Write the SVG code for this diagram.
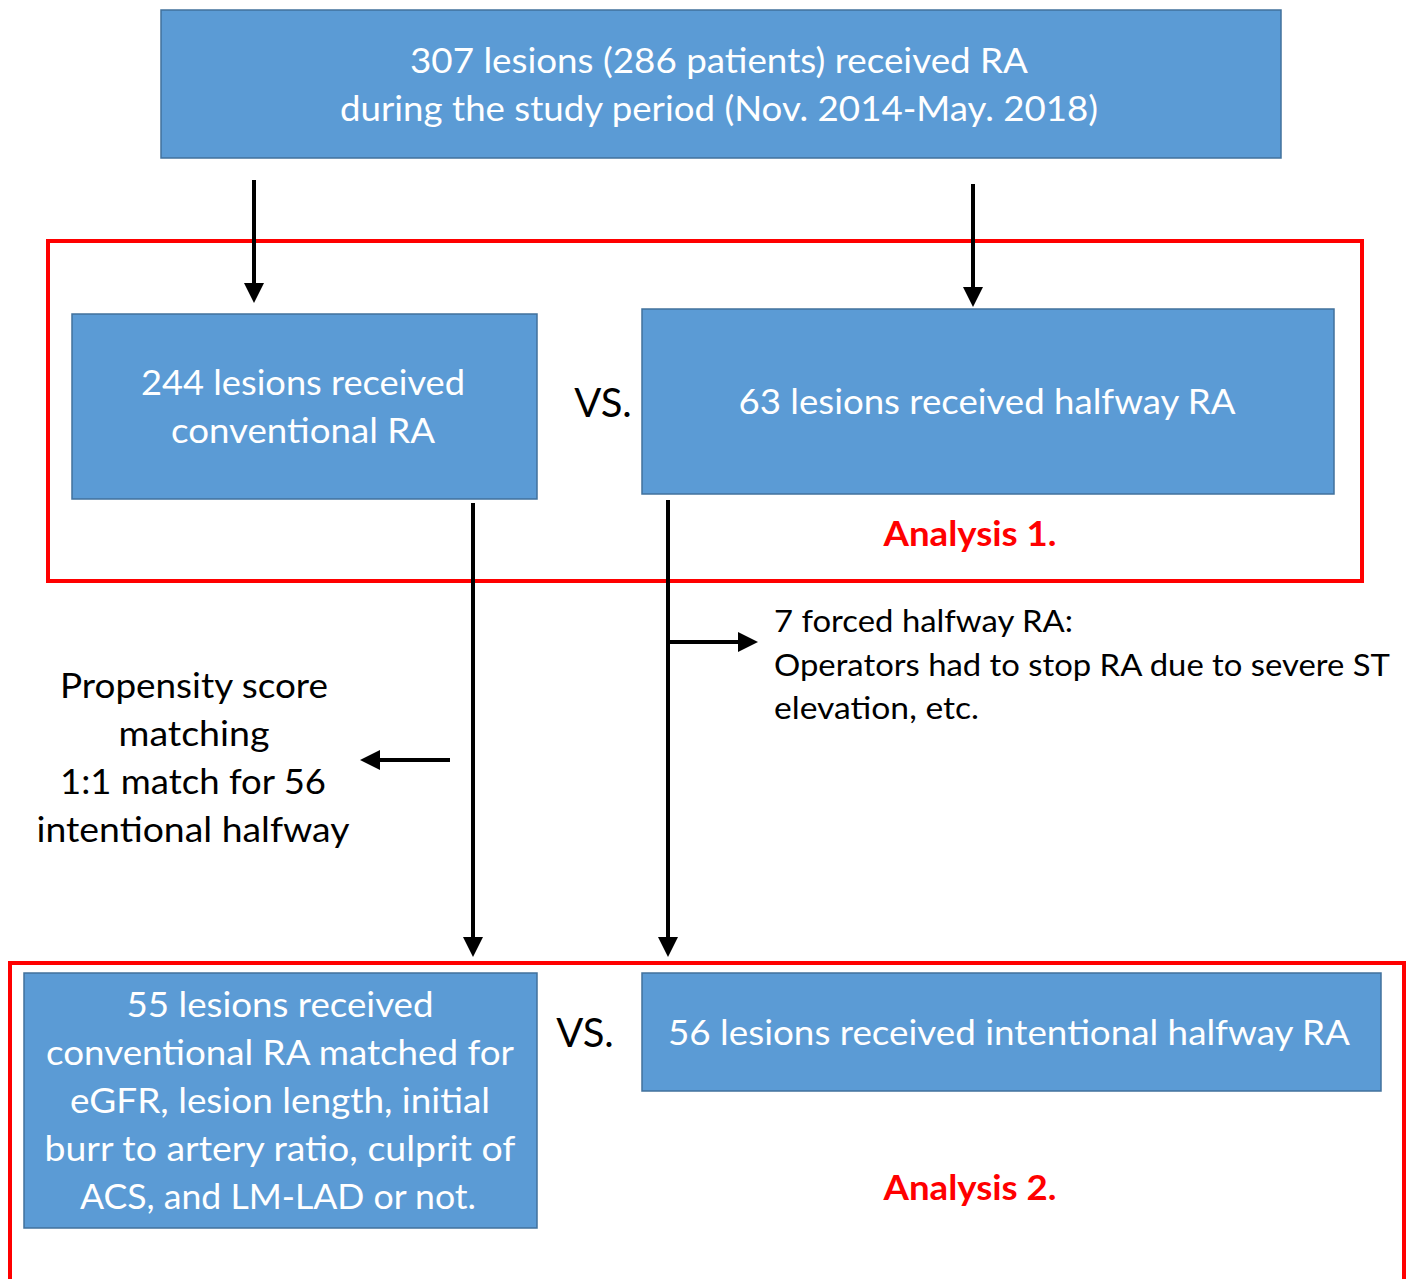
<svg xmlns="http://www.w3.org/2000/svg" width="1409" height="1279" viewBox="0 0 1409 1279">
<style>
.box{fill:#5b9bd5;stroke:#41719c;stroke-width:1.5}
text{font-family:Lato,"Open Sans",sans-serif}
.wt{font-size:35px;fill:#fff;text-anchor:middle}
.bt{font-size:34px;fill:#000}
.ft{font-size:31px;fill:#000}
.vs{font-size:40px;fill:#000;text-anchor:middle}
.rt{font-size:34px;font-weight:bold;fill:#ff0000;text-anchor:middle}
.frame{fill:none;stroke:#ff0000;stroke-width:4}
.ln{stroke:#000;stroke-width:4;fill:none}
</style>
<defs>
<marker id="ah" markerWidth="5" markerHeight="5" refX="4" refY="2.5" orient="auto" markerUnits="strokeWidth">
<path d="M0,0 L5,2.5 L0,5 z" fill="#000"/>
</marker>
</defs>
<rect width="1409" height="1279" fill="#fff"/>
<rect class="frame" x="48" y="241" width="1314" height="340"/>
<path class="frame" d="M10,1285 L10,963 L1404,963 L1404,1285"/>
<g id="top"><rect class="box" x="161" y="10" width="1120" height="148"/>
<text class="wt" x="719" y="73" textLength="618" lengthAdjust="spacingAndGlyphs">307 lesions (286 patients) received RA</text>
<text class="wt" x="719" y="121" textLength="758" lengthAdjust="spacingAndGlyphs">during the study period (Nov. 2014-May. 2018)</text></g>
<g id="conv"><rect class="box" x="72" y="314" width="465" height="185"/>
<text class="wt" x="303" y="395" textLength="324" lengthAdjust="spacingAndGlyphs">244 lesions received</text>
<text class="wt" x="303" y="443" textLength="264" lengthAdjust="spacingAndGlyphs">conventional RA</text></g>
<g id="half"><rect class="box" x="642" y="309" width="692" height="185"/>
<text class="wt" x="987" y="414" textLength="497" lengthAdjust="spacingAndGlyphs">63 lesions received halfway RA</text></g>
<g id="vs1"><text class="vs" x="603" y="417">VS.</text></g>
<g id="a1"><text class="rt" x="970" y="546" textLength="173" lengthAdjust="spacingAndGlyphs">Analysis 1.</text></g>
<g id="forced"><text class="ft" x="774" y="632" textLength="299" lengthAdjust="spacingAndGlyphs">7 forced halfway RA:</text>
<text class="ft" x="774" y="676" textLength="616" lengthAdjust="spacingAndGlyphs">Operators had to stop RA due to severe ST</text>
<text class="ft" x="774" y="719" textLength="205" lengthAdjust="spacingAndGlyphs">elevation, etc.</text></g>
<g id="psm"><text class="bt" x="194" y="698" text-anchor="middle" textLength="268" lengthAdjust="spacingAndGlyphs">Propensity score</text>
<text class="bt" x="194" y="746" text-anchor="middle" textLength="151" lengthAdjust="spacingAndGlyphs">matching</text>
<text class="bt" x="193" y="794" text-anchor="middle" textLength="266" lengthAdjust="spacingAndGlyphs">1:1 match for 56</text>
<text class="bt" x="193" y="842" text-anchor="middle" textLength="313" lengthAdjust="spacingAndGlyphs">intentional halfway</text></g>
<g id="matched"><rect class="box" x="24" y="973" width="513" height="255"/>
<text class="wt" x="280" y="1017" textLength="307" lengthAdjust="spacingAndGlyphs">55 lesions received</text>
<text class="wt" x="280" y="1065" textLength="468" lengthAdjust="spacingAndGlyphs">conventional RA matched for</text>
<text class="wt" x="280" y="1113" textLength="420" lengthAdjust="spacingAndGlyphs">eGFR, lesion length, initial</text>
<text class="wt" x="280" y="1161" textLength="471" lengthAdjust="spacingAndGlyphs">burr to artery ratio, culprit of</text>
<text class="wt" x="278" y="1209" textLength="396" lengthAdjust="spacingAndGlyphs">ACS, and LM-LAD or not.</text></g>
<g id="intent"><rect class="box" x="642" y="973" width="739" height="118"/>
<text class="wt" x="1009" y="1045" textLength="682" lengthAdjust="spacingAndGlyphs">56 lesions received intentional halfway RA</text></g>
<g id="vs2"><text class="vs" x="585" y="1047">VS.</text></g>
<g id="a2"><text class="rt" x="970" y="1200" textLength="173" lengthAdjust="spacingAndGlyphs">Analysis 2.</text></g>
<g id="connectors">
<line class="ln" x1="254" y1="180" x2="254" y2="299" marker-end="url(#ah)"/>
<line class="ln" x1="973" y1="184" x2="973" y2="303" marker-end="url(#ah)"/>
<line class="ln" x1="473" y1="503" x2="473" y2="953" marker-end="url(#ah)"/>
<line class="ln" x1="668" y1="500" x2="668" y2="953" marker-end="url(#ah)"/>
<line class="ln" x1="668" y1="642" x2="754" y2="642" marker-end="url(#ah)"/>
<line class="ln" x1="450" y1="760" x2="364" y2="760" marker-end="url(#ah)"/>
</g>
</svg>
